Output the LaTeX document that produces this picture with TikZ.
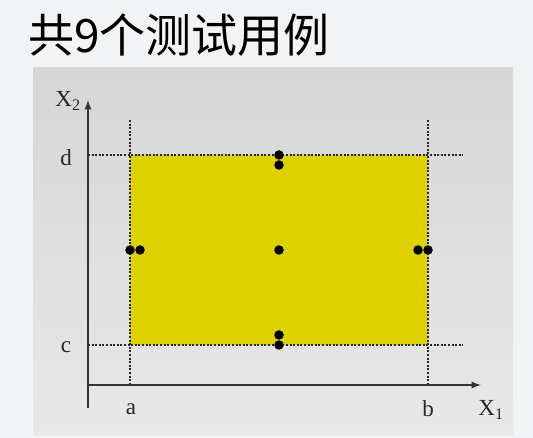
\documentclass[tikz,border=0pt]{standalone}
\usepackage{fontspec}
\setmainfont{Liberation Serif}
\newfontfamily\cjk{Noto Sans CJK SC}
\usetikzlibrary{arrows.meta, positioning, calc}

\definecolor{fundo}{HTML}{F1F3F5}
\definecolor{painel}{HTML}{D6D6D6}
\definecolor{amarelo}{HTML}{DDD200}

\tikzset{
    grade/.style={line width=2.2pt, black!85, dash pattern=on 2pt off 1.6pt},
    ponto/.style={circle, fill=black, inner sep=0pt, minimum size=9.5pt},
    rotulo/.style={font=\fontsize{23}{23}\selectfont, inner sep=1pt, text=black!85},
}

\begin{document}
\begin{tikzpicture}[>=latex, x=1pt, y=-1pt]
    \useasboundingbox (0, 0) rectangle (533, 438);
    \fill[fundo] (0, 0) rectangle (533, 438);

    % titulo
    \node[anchor=base west, inner sep=0pt] (titulo) at (28, 53) {\cjk\fontsize{46}{46}\selectfont 共9个测试用例};

    % painel cinza
    \shade[top color=painel, bottom color=black!9] (33, 68) rectangle (513, 435);

    \coordinate (O) at (88, 385);
    \coordinate (A) at (130, 385);
    \coordinate (B) at (428, 385);
    \coordinate (C) at (88, 345);
    \coordinate (D) at (88, 155);

    % regiao amarela
    \fill[amarelo] (A |- D) rectangle (B |- C);

    % linhas pontilhadas
    \draw[grade] (130, 120) -- (A);
    \draw[grade] (428, 120) -- (B);
    \draw[grade] (D) -- (463, 155);
    \draw[grade] (C) -- (463, 345);

    % eixos
    \draw[line width=2.2pt, black!80, ->] (88, 408) -- (88, 100);
    \draw[line width=2.2pt, black!80, ->] (87, 385) -- (481, 385);

    \node[rotulo] (x2) at (68, 101) {X\textsubscript{2}};
    \node[rotulo] (x1) at (491, 410) {X\textsubscript{1}};
    \node[rotulo] (d) at (66, 158) {d};
    \node[rotulo] (c) at (66, 347) {c};
    \node[rotulo] (a) at (131, 409) {a};
    \node[rotulo] (b) at (428, 409) {b};

    % 9 casos de teste
    \foreach \px/\py in {279/155, 279/165, 279/250, 279/335, 279/345,
                         130/250, 140/250, 418/250, 428/250}
        \node[ponto] at (\px, \py) {};

\end{tikzpicture}
\end{document}
